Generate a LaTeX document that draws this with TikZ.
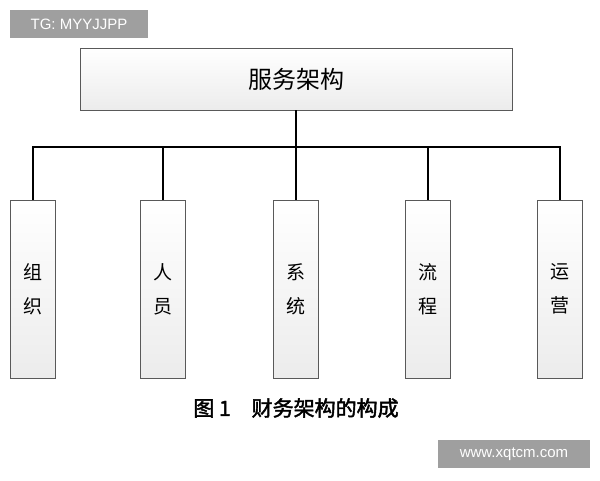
\documentclass[tikz,border=0pt]{standalone}
\usepackage{fontspec}
\newfontfamily\cjk{Noto Sans CJK SC}
\newfontfamily\cjkb[FakeBold=2]{Noto Sans CJK SC}
\setsansfont{Liberation Sans}
\usetikzlibrary{shapes, arrows, calc, positioning}
\tikzstyle{top} = [rectangle, draw=gray!70!black, top color=white, bottom color=gray!15,
    minimum width=432pt, minimum height=62pt, font=\cjk\fontsize{24}{24}\selectfont]
\tikzstyle{part} = [rectangle, draw=gray!70!black, top color=white, bottom color=gray!15,
    minimum width=45pt, minimum height=178pt, align=center,
    font=\cjk\fontsize{19}{34}\selectfont]
\tikzstyle{stamp} = [rectangle, fill=gray!75, text=white, inner sep=0pt,
    font=\sffamily\fontsize{15}{15}\selectfont]
\tikzstyle{line} = [draw, line width=1.2pt]
\begin{document}
\begin{tikzpicture}[x=1pt, y=-1pt]
    \useasboundingbox (0,0) rectangle (600,480);
    % Nodes
    \node [top] (service) at (296,79) {服务架构};
    \node [part] (org) at (33,289) {组\\织};
    \node [part] (people) at (163,289) {人\\员};
    \node [part] (system) at (296,289) {系\\统};
    \node [part] (flow) at (428,289) {流\\程};
    \node [part] (ops) at (560,289) {运\\营};
    \coordinate (hub) at (296,147);
    \node [font=\cjkb\fontsize{21}{21}\selectfont] (caption) at (296,408) {图 1\quad 财务架构的构成};
    \node [stamp, minimum width=138pt, minimum height=28pt] (tag) at (79,24) {TG: MYYJJPP};
    \node [stamp, minimum width=152pt, minimum height=28pt] (site) at (514,454) {www.xqtcm.com};
    % Edges
    \path [line] (service.south) -- (hub);
    \path [line] (org.north) |- (hub);
    \path [line] (ops.north) |- (hub);
    \foreach \n in {people, system, flow}
        \path [line] (\n.north) -- (\n.north |- hub);
\end{tikzpicture}
\end{document}
